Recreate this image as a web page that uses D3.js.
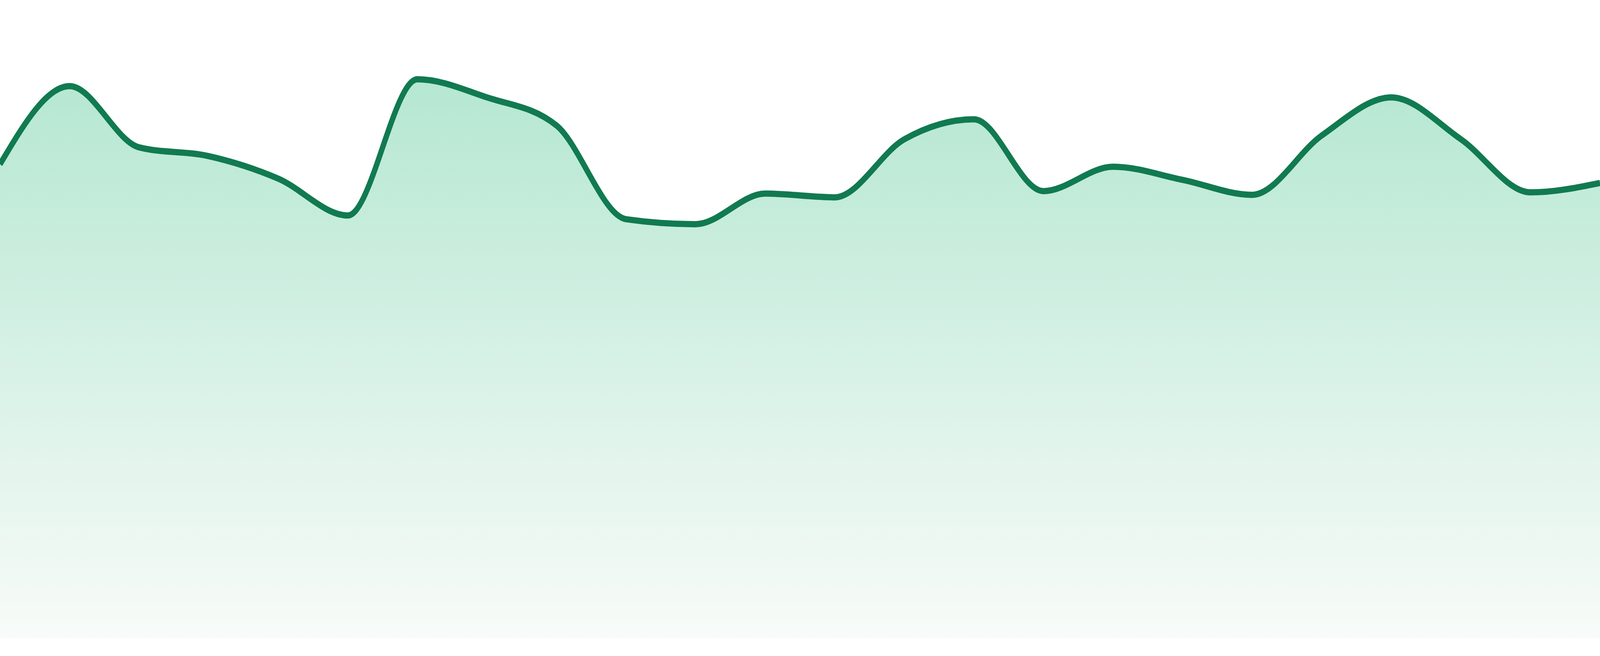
<!DOCTYPE html>
<html>
<head>
<meta charset="utf-8">
<script src="https://cdn.jsdelivr.net/npm/d3@7"></script>
<style>
  html, body { margin: 0; padding: 0; background: #ffffff; overflow: hidden; }
  #chart-div { width: 100vw; height: 100vh; overflow: hidden; }
  #chart-div svg { display: block; }
</style>
</head>
<body>
<div id="chart-div"></div>
<script>
// one point per period, no axis labels shown in the original
var periods = ["p01","p02","p03","p04","p05","p06","p07","p08","p09","p10","p11","p12",
               "p13","p14","p15","p16","p17","p18","p19","p20","p21","p22","p23","p24"];
var values = [75.9, 88.4, 78.6, 77.2, 73.6, 67.7, 89.5, 86.6, 82.1, 67.1, 66.3, 71.2,
              70.6, 79.9, 83.1, 71.6, 75.5, 73.4, 71.0, 80.5, 86.6, 79.9, 71.4, 72.9];
var yDomain = [0, 100];

// drawing space of the reference; the svg is stretched to whatever the window is
var width = 4800
var height = 1680
var margin = {top: 35, right: 0, bottom: 45, left: 0};

var svg = d3.select('#chart-div')
            .append('svg')
            .attr("width", window.innerWidth || width)
            .attr("height", window.innerHeight || height)
            .attr("viewBox", [0, 0, width, height])
            .attr("preserveAspectRatio", "none");

var x = d3.scalePoint()
    .domain(periods)
    .range([margin.left, width - margin.right]);

var y = d3.scaleLinear()
    .domain(yDomain)
    .range([height - margin.bottom, margin.top]);

var data = periods.map(function(p, i) { return {period: p, value: values[i]}; });

// vertical fade under the line
var defs = svg.append("defs");
var grad = defs.append("linearGradient")
    .attr("id", "area-fade")
    .attr("gradientUnits", "userSpaceOnUse")
    .attr("x1", 0).attr("x2", 0)
    .attr("y1", y(95)).attr("y2", y(0));
grad.append("stop").attr("offset", "0%").attr("stop-color", "#b1e6cf");
grad.append("stop").attr("offset", "100%").attr("stop-color", "#f8fbf9");

var area = d3.area()
    .curve(d3.curveMonotoneX)
    .x(function(d) { return x(d.period); })
    .y0(y(0))
    .y1(function(d) { return y(d.value); });

var line = d3.line()
    .curve(d3.curveMonotoneX)
    .x(function(d) { return x(d.period); })
    .y(function(d) { return y(d.value); });

svg.append("path")
    .datum(data)
    .attr("class", "area")
    .attr("fill", "url(#area-fade)")
    .attr("d", area);

svg.append("path")
    .datum(data)
    .attr("class", "line")
    .attr("fill", "none")
    .attr("stroke", "#117a50")
    .attr("stroke-width", 16)
    .attr("stroke-linejoin", "round")
    .attr("d", line);
</script>
</body>
</html>
